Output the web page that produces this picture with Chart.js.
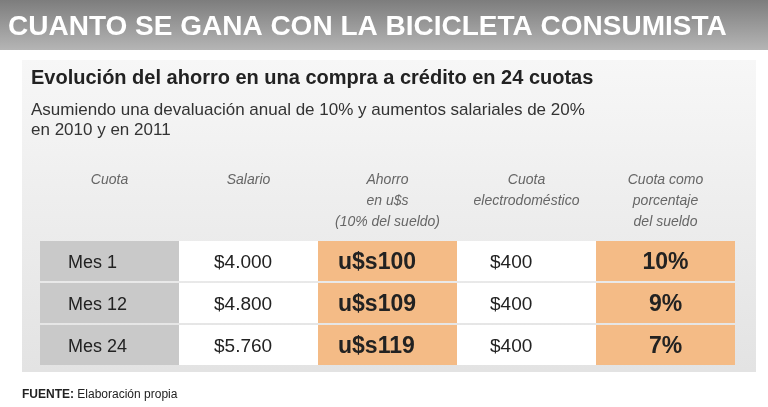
<!DOCTYPE html>
<html>
<head>
<meta charset="utf-8">
<script src="https://cdn.jsdelivr.net/npm/chart.js@4/dist/chart.umd.min.js"></script>
<style>
  html, body { margin: 0; padding: 0; background: #fff; }
  #wrap { width: 768px; height: 407px; position: relative; }
</style>
</head>
<body>
<div id="wrap"><canvas id="tabla" width="768" height="407"></canvas></div>
<script>
// Datos de la tabla
const filas = ['Mes 1', 'Mes 12', 'Mes 24'];
const salario = ['$4.000', '$4.800', '$5.760'];
const ahorro = ['u$s100', 'u$s109', 'u$s119'];
const cuota = ['$400', '$400', '$400'];
const porcentaje = ['10%', '9%', '7%'];
const encabezados = [
    ['Cuota'],
    ['Salario'],
    ['Ahorro', 'en u$s', '(10% del sueldo)'],
    ['Cuota', 'electrodoméstico'],
    ['Cuota como', 'porcentaje', 'del sueldo']
];
const colores = ['#c9c9c9', '#ffffff', '#f4bb86', '#ffffff', '#f4bb86'];

const FONT = '"Liberation Sans", Arial, sans-serif';

// Cada celda es una barra flotante en la columna correspondiente
const datasets = colores.map((c, i) => ({
    data: filas.map(() => [i, i + 1]),
    backgroundColor: c,
    borderWidth: 0,
    barPercentage: 0.95,
    categoryPercentage: 1
}));

const textos = {
    id: 'textos',
    beforeDraw(chart) {
        const ctx = chart.ctx;
        ctx.save();
        // banda del titulo
        let g = ctx.createLinearGradient(0, 0, 0, 50);
        g.addColorStop(0, '#7d7d7d');
        g.addColorStop(1, '#b5b5b5');
        ctx.fillStyle = g;
        ctx.fillRect(0, 0, 768, 50);
        ctx.fillStyle = '#fff';
        ctx.font = 'bold 28px ' + FONT;
        ctx.textBaseline = 'middle';
        ctx.fillText('CUANTO SE GANA CON LA BICICLETA CONSUMISTA', 8, 27, 752);
        // panel gris
        g = ctx.createLinearGradient(0, 60, 0, 370);
        g.addColorStop(0, '#f7f7f7');
        g.addColorStop(1, '#e3e3e3');
        ctx.fillStyle = g;
        ctx.fillRect(22, 60, 734, 312);
        ctx.fillStyle = '#222';
        ctx.font = 'bold 20px ' + FONT;
        ctx.fillText('Evolución del ahorro en una compra a crédito en 24 cuotas', 31, 78, 700);
        ctx.fillStyle = '#333';
        ctx.font = '17px ' + FONT;
        ctx.fillText('Asumiendo una devaluación anual de 10% y aumentos salariales de 20%', 31, 110, 715);
        ctx.fillText('en 2010 y en 2011', 31, 130);
        // encabezados
        const x = chart.scales.x;
        ctx.fillStyle = '#666';
        ctx.font = 'italic 14px ' + FONT;
        ctx.textAlign = 'center';
        encabezados.forEach((lineas, i) => {
            lineas.forEach((t, j) => ctx.fillText(t, x.getPixelForValue(i + 0.5), 180 + j * 21));
        });
        // fuente
        ctx.textAlign = 'left';
        ctx.fillStyle = '#222';
        ctx.font = 'bold 12px ' + FONT;
        ctx.fillText('FUENTE:', 22, 395);
        const w = ctx.measureText('FUENTE: ').width;
        ctx.font = '12px ' + FONT;
        ctx.fillText('Elaboración propia', 22 + w, 395);
        ctx.restore();
    },
    afterDatasetsDraw(chart) {
        const ctx = chart.ctx;
        const x = chart.scales.x, y = chart.scales.y;
        ctx.save();
        ctx.textBaseline = 'middle';
        ctx.fillStyle = '#222';
        filas.forEach((f, r) => {
            const py = y.getPixelForValue(r) + 2;
            ctx.textAlign = 'left';
            ctx.font = '18px ' + FONT;
            ctx.fillText(f, x.getPixelForValue(0) + 28, py);
            ctx.font = '19px ' + FONT;
            ctx.fillText(salario[r], x.getPixelForValue(1) + 35, py);
            ctx.fillText(cuota[r], x.getPixelForValue(3) + 33, py);
            ctx.font = 'bold 23px ' + FONT;
            ctx.fillText(ahorro[r], x.getPixelForValue(2) + 20, py);
            ctx.textAlign = 'center';
            ctx.fillText(porcentaje[r], x.getPixelForValue(4.5), py);
        });
        ctx.restore();
    }
};

new Chart(document.getElementById('tabla'), {
    type: 'bar',
    data: { labels: filas, datasets: datasets },
    options: {
        indexAxis: 'y',
        responsive: false,
        animation: false,
        devicePixelRatio: 1,
        layout: { padding: { left: 40, right: 33, top: 240, bottom: 41 } },
        plugins: { legend: { display: false }, tooltip: { enabled: false } },
        scales: {
            x: { type: 'linear', min: 0, max: 5, display: false, grid: { display: false } },
            y: { type: 'category', stacked: true, display: false, grid: { display: false } }
        }
    },
    plugins: [textos]
});
</script>
</body>
</html>
